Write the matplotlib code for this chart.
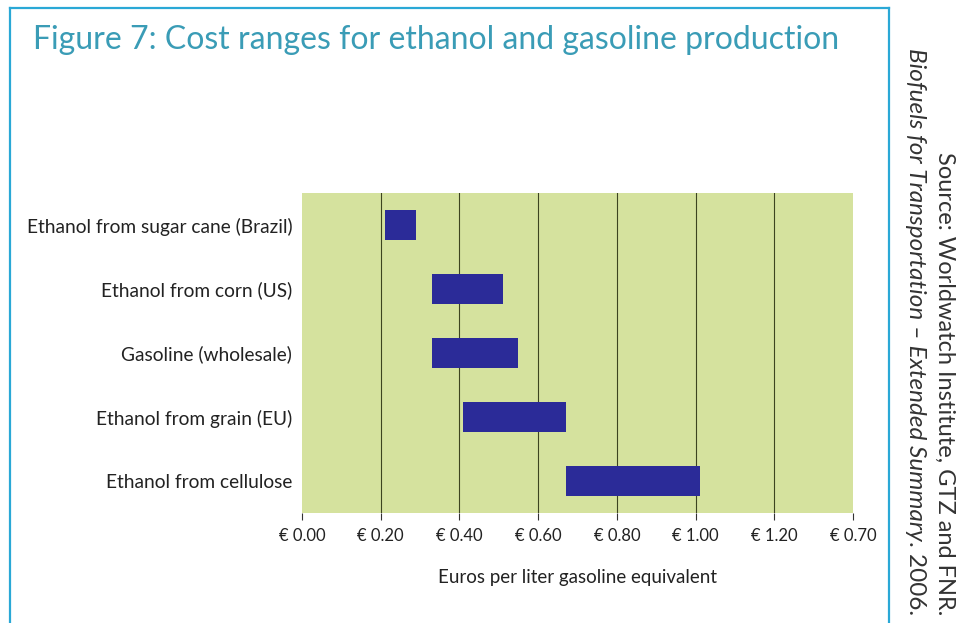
import matplotlib
matplotlib.use("Agg")
import matplotlib.pyplot as plt
from matplotlib.lines import Line2D

plt.rcParams['font.family'] = ['Lato', 'DejaVu Sans']

categories = ['Ethanol from sugar cane (Brazil)', 'Ethanol from corn (US)',
              'Gasoline (wholesale)', 'Ethanol from grain (EU)',
              'Ethanol from cellulose']
low = [0.21, 0.33, 0.33, 0.41, 0.67]
high = [0.29, 0.51, 0.55, 0.67, 1.01]
ticks = [0.0, 0.2, 0.4, 0.6, 0.8, 1.0, 1.2, 1.4]
tick_labels = ['€ 0.00', '€ 0.20', '€ 0.40', '€ 0.60', '€ 0.80', '€ 1.00',
               '€ 1.20', '€ 0.70']

W, H = 963, 623
fig = plt.figure(figsize=(W / 100, H / 100), dpi=100)
fig.patch.set_facecolor('white')

ax = fig.add_axes([302 / W, 1 - 513 / H, (853 - 302) / W, (513 - 193) / H])
ax.set_facecolor('#d5e29e')

y = list(range(len(categories)))
widths = [h - l for l, h in zip(low, high)]
ax.barh(y, widths, left=low, height=0.47, color='#2b2b98', zorder=3)

ax.set_xlim(0, 1.4)
ax.set_ylim(len(categories) - 0.5, -0.5)
ax.set_yticks(y)
ax.set_yticklabels(categories, fontsize=13.8, color='#222222')
ax.tick_params(axis='y', length=0, pad=7)
ax.set_xticks(ticks)
ax.set_xticklabels(tick_labels, fontsize=12, color='#222222')
ax.tick_params(axis='x', length=5, color='#333333', pad=6)
for x in ticks[1:-1]:
    ax.axvline(x, color='#3d4420', lw=0.8, zorder=2)
for s in ax.spines.values():
    s.set_visible(False)

ax.set_xlabel('Euros per liter gasoline equivalent', fontsize=13.5,
              color='#222222', labelpad=18)

# frame around the figure block
frame_c = '#2aa8d6'
fig.add_artist(Line2D([10 / W, 10 / W], [0, 1 - 8 / H], color=frame_c, lw=1.6))
fig.add_artist(Line2D([10 / W, 889 / W], [1 - 8 / H, 1 - 8 / H], color=frame_c, lw=1.6))
fig.add_artist(Line2D([889 / W, 889 / W], [0, 1 - 8 / H], color=frame_c, lw=1.6))

fig.text(33 / W, 1 - 40 / H, 'Figure 7: Cost ranges for ethanol and gasoline production',
         fontsize=23, color='#3a9cb6', va='center', ha='left')

# source note, rotated on the right
fig.text(945 / W, 1 - 615 / H, 'Source: Worldwatch Institute, GTZ and FNR.',
         rotation=-90, fontsize=17, color='#333333', ha='center', va='bottom')
yr = fig.text(915 / W, 1 - 615 / H, '. 2006.', rotation=-90, fontsize=17.5,
              color='#333333', ha='center', va='bottom')
fig.canvas.draw()
bb = yr.get_window_extent(fig.canvas.get_renderer())
fig.text(915 / W, bb.y1 / H, 'Biofuels for Transportation – Extended Summary',
         rotation=-90, fontsize=17.5, color='#333333', ha='center', va='bottom',
         style='italic')

fig.savefig('out.png', dpi=100)
